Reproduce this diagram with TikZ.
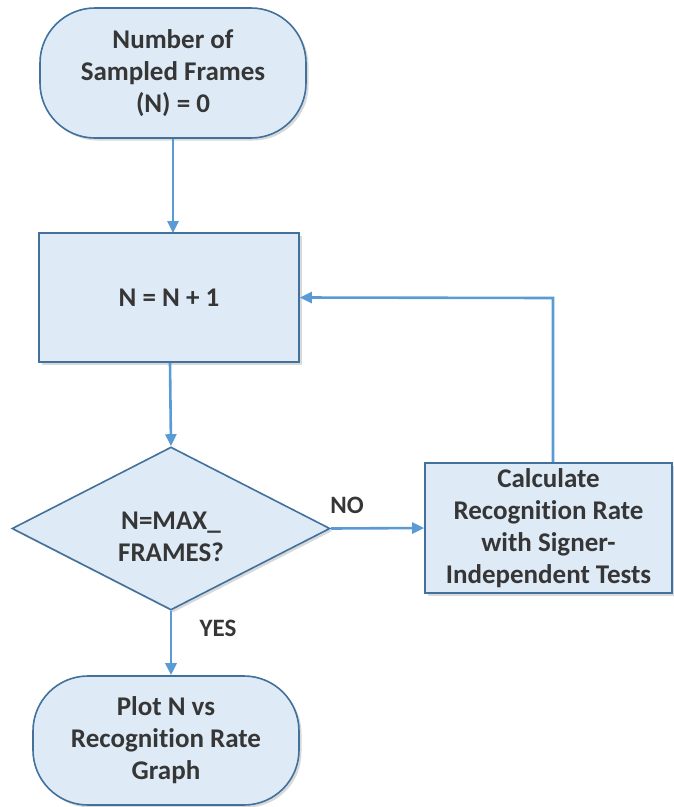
\documentclass[tikz,border=0pt]{standalone}
\usepackage{fontspec}
\setmainfont[Ligatures=NoCommon]{Carlito}
\usetikzlibrary{arrows.meta,shapes.geometric,shadows}
\definecolor{boxfill}{HTML}{DEEAF6}
\definecolor{boxline}{HTML}{41719C}
\definecolor{flowline}{HTML}{5B9BD5}
\definecolor{textgray}{HTML}{363636}
\tikzset{
  base/.style={draw=boxline, fill=boxfill, line width=1.6pt, align=center,
    text=textgray, font=\fontsize{27}{32}\selectfont\bfseries, inner sep=0pt,
    drop shadow={shadow xshift=2.5pt, shadow yshift=-2.5pt, opacity=0.25, fill=black!60}},
  terminal/.style={base, rectangle, rounded corners=55pt},
  process/.style={base, rectangle},
  decision/.style={base, diamond, aspect=1.95},
  flow/.style={draw=flowline, line width=2.6pt,
    -{Triangle[length=12pt,width=11pt]}},
  tag/.style={text=textgray, font=\fontsize{25}{28}\selectfont\bfseries}
}
\begin{document}
\begin{tikzpicture}[x=1pt, y=-1pt]
  \useasboundingbox (0,0) rectangle (674,807);

  \node[terminal, minimum width=266pt, minimum height=130pt] (start) at (173,73)
    {Number of\\Sampled Frames\\(N) = 0};
  \node[process, minimum width=260pt, minimum height=129pt] (inc) at (169,297.5)
    {N = N + 1};
  \node[decision, minimum width=318pt, minimum height=163pt] (test) at (171,528.5)
    {\\[2pt]N=MAX\_\\FRAMES?};
  \node[process, minimum width=247pt, minimum height=130pt] (calc) at (548.5,528)
    {Calculate\\Recognition Rate\\with Signer-\\Independent Tests};
  \node[terminal, minimum width=266pt, minimum height=129pt] (plot) at (166,740.5)
    {Plot N vs\\Recognition Rate\\Graph};

  \coordinate (corner) at (553,298);

  \draw[flow] (start.south -| 173,0) -- (173,233);
  \draw[flow] (inc.south -| 170,0) -- (test.north);
  \draw[flow] (test.east) -- (calc.west);
  \draw[flow] (calc.north -| corner) -- (corner) -- (inc.east);
  \draw[flow] (test.south) -- (plot.north -| test.south);

  \node[tag] (no) at (347,505) {NO};
  \node[tag] (yes) at (218,628) {YES};
\end{tikzpicture}
\end{document}
